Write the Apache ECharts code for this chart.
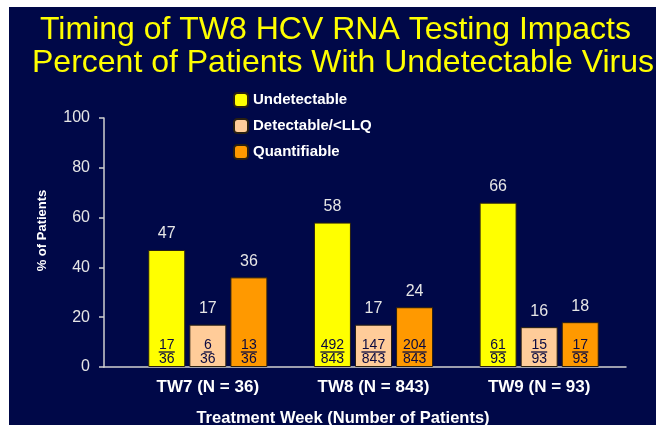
<!DOCTYPE html>
<html>
<head>
<meta charset="utf-8">
<script src="https://cdn.jsdelivr.net/npm/echarts@6/dist/echarts.min.js"></script>
<style>
html,body{margin:0;padding:0;background:#ffffff;width:664px;height:434px;overflow:hidden;}
#c{position:absolute;left:9px;top:7px;width:647px;height:418px;}
</style>
</head>
<body>
<div id="c"></div>
<script>
var categories = ['TW7 (N = 36)', 'TW8 (N = 843)', 'TW9 (N = 93)'];
var seriesNames = ['Undetectable', 'Detectable/<LLQ', 'Quantifiable'];
var undetectable = [47, 58, 66];
var detectable = [17, 17, 16];
var quantifiable = [36, 24, 18];
var undetectableN = [17, 492, 61];
var detectableN = [6, 147, 15];
var quantifiableN = [13, 204, 17];
var totals = [36, 843, 93];
var yTicks = [0, 20, 40, 60, 80, 100];

var NAVY = '#000848';
var FONT = 'Liberation Sans, Arial, sans-serif';
var INK = '#0a0a40';

function insideLabel(nums) {
  return {
    show: true,
    position: 'insideBottom',
    distance: 1,
    formatter: function (p) {
      var n = String(nums[p.dataIndex]);
      return '{n|' + n + '}\n{hr' + n.length + '|}\n{d|' + totals[p.dataIndex] + '}';
    },
    rich: {
      n: { fontSize: 14, lineHeight: 13, color: INK, fontFamily: FONT, align: 'center' },
      hr1: { width: 8, height: 0, borderWidth: 0.8, borderColor: INK, align: 'center' },
      hr2: { width: 16, height: 0, borderWidth: 0.8, borderColor: INK, align: 'center' },
      hr3: { width: 24, height: 0, borderWidth: 0.8, borderColor: INK, align: 'center' },
      d: { fontSize: 14, lineHeight: 14, color: INK, fontFamily: FONT, align: 'center' }
    }
  };
}

var chart = echarts.init(document.getElementById('c'), null, { renderer: 'canvas' });
var colors = ['#ffff00', '#ffcc99', '#ff9900'];
var valueSets = [undetectable, detectable, quantifiable];
var numSets = [undetectableN, detectableN, quantifiableN];
var series = [];
for (var i = 0; i < 3; i++) {
  series.push({
    name: seriesNames[i], type: 'bar', xAxisIndex: 0, yAxisIndex: 0,
    barWidth: 37, barGap: '11%',
    itemStyle: { color: colors[i], borderColor: '#2a2010', borderWidth: 1 },
    label: { show: true, position: 'top', distance: 8, color: '#e6e6e6', fontSize: 16, fontFamily: FONT },
    data: valueSets[i]
  });
}
for (var j = 0; j < 3; j++) {
  series.push({
    type: 'bar', xAxisIndex: 2, yAxisIndex: 0, barWidth: 37, barGap: '11%',
    name: seriesNames[j] + ' counts', silent: true,
    itemStyle: { color: 'rgba(0,0,0,0)' },
    label: insideLabel(numSets[j]),
    data: valueSets[j],
    z: 5
  });
}

chart.setOption({
  backgroundColor: NAVY,
  animation: false,
  textStyle: { fontFamily: FONT },
  title: [
    { text: 'Timing of TW8 HCV RNA Testing Impacts', left: 26, top: 2,
      textStyle: { color: '#ffff00', fontSize: 32, fontWeight: 'normal', fontFamily: FONT } },
    { text: 'Percent of Patients With Undetectable Virus', left: 18, top: 35,
      textStyle: { color: '#ffff00', fontSize: 32, fontWeight: 'normal', fontFamily: FONT } },
    { text: 'Treatment Week (Number of Patients)', left: 329, top: 398, textAlign: 'center',
      textStyle: { color: '#ffffff', fontSize: 16.5, fontWeight: 'bold', fontFamily: FONT } }
  ],
  legend: {
    orient: 'vertical', left: 219, top: 80, itemWidth: 14, itemHeight: 14, itemGap: 10,
    data: seriesNames,
    textStyle: { color: '#ffffff', fontSize: 15, fontWeight: 'bold', fontFamily: FONT }
  },
  grid: [
    { left: 116, right: 34, top: 111, bottom: 58 },
    { left: 95, right: 30, top: 111, bottom: 58 }
  ],
  xAxis: [
    { type: 'category', gridIndex: 0, data: categories,
      axisLine: { show: false }, axisTick: { show: false },
      axisLabel: { color: '#ffffff', fontSize: 17, fontWeight: 'bold', margin: 12, fontFamily: FONT } },
    { type: 'value', gridIndex: 1, min: 0, max: 1,
      axisLine: { show: true, lineStyle: { color: '#cfcfcf', width: 1.5 } },
      axisTick: { show: false }, axisLabel: { show: false }, splitLine: { show: false } },
    { type: 'category', gridIndex: 0, data: categories, show: false }
  ],
  yAxis: [
    { type: 'value', gridIndex: 0, min: 0, max: 100, interval: 20, offset: 21,
      name: '% of Patients', nameLocation: 'middle', nameGap: 55, nameRotate: 90,
      nameTextStyle: { color: '#ffffff', fontSize: 13, fontWeight: 'bold', fontFamily: FONT, padding: [0, 0, 0, 24] },
      axisLine: { show: true, lineStyle: { color: '#cfcfcf', width: 1.5 } },
      axisTick: { show: true, length: 5, lineStyle: { color: '#cfcfcf', width: 1.5 } },
      axisLabel: { color: '#e6e6e6', fontSize: 16, margin: 14, fontFamily: FONT,
        formatter: function (v) { return yTicks.indexOf(v) >= 0 ? String(v) : ''; } },
      splitLine: { show: false } },
    { type: 'value', gridIndex: 1, show: false, min: 0, max: 100 }
  ],
  series: series
});
</script>
</body>
</html>
